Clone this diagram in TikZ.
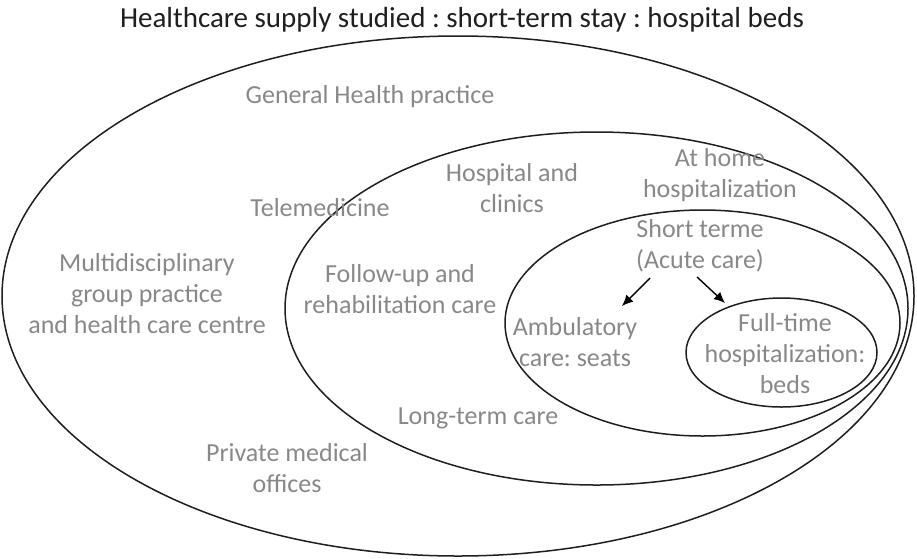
\documentclass[tikz,border=0pt]{standalone}
\usepackage{fontspec}
\setmainfont{Carlito}
\usetikzlibrary{arrows.meta}
\definecolor{lblgray}{HTML}{888888}
\definecolor{linedark}{HTML}{1E1E1E}
\tikzset{
  ring/.style={draw=linedark, line width=1.5pt},
  lbl/.style={text=lblgray, font=\fontsize{26}{31}\selectfont, align=center, inner sep=0pt},
  ttl/.style={text=black!88, font=\fontsize{29}{34}\selectfont, inner sep=0pt},
  arr/.style={draw=black, line width=1.4pt, -{Latex[length=11pt,width=10pt]}}
}
\frenchspacing
\begin{document}
\begin{tikzpicture}[x=1pt,y=-1pt]
\useasboundingbox (0,0) rectangle (917,558);
% rings
\draw[ring] (458,296) ellipse [x radius=456pt, y radius=260pt];
\draw[ring] (596.5,308.5) ellipse [x radius=311.5pt, y radius=176.5pt];
\draw[ring] (702.5,323) ellipse [x radius=197.5pt, y radius=113pt];
\draw[ring] (781.5,352.5) ellipse [x radius=95.5pt, y radius=54.5pt];
% title
\node[ttl] (title) at (462,20) {Healthcare supply studied : short-term stay : hospital beds};
% labels
\node[lbl] (ghp) at (370,97) {General Health practice};
\node[lbl] (hosp) at (512,188) {Hospital and\\clinics};
\node[lbl] (home) at (720,175) {At home\\hospitalization};
\node[lbl] (tele) at (320,208) {Telemedicine};
\node[lbl] (multi) at (147,294) {Multidisciplinary\\group practice\\and health care centre};
\node[lbl] (follow) at (400,289) {Follow-up and\\rehabilitation care};
\node[lbl] (short) at (700,246) {Short terme\\(Acute care)};
\node[lbl] (amb) at (575,342) {Ambulatory\\care: seats};
\node[lbl] (full) at (785,354) {Full-time\\hospitalization:\\beds};
\node[lbl] (long) at (478,418) {Long-term care};
\node[lbl] (priv) at (287,468) {Private medical\\offices};
% arrows
\coordinate (a1s) at (650,278);
\coordinate (a1e) at (622,306);
\coordinate (a2s) at (697,277);
\coordinate (a2e) at (725,303);
\draw[arr] (a1s) -- (a1e);
\draw[arr] (a2s) -- (a2e);
\end{tikzpicture}
\end{document}
